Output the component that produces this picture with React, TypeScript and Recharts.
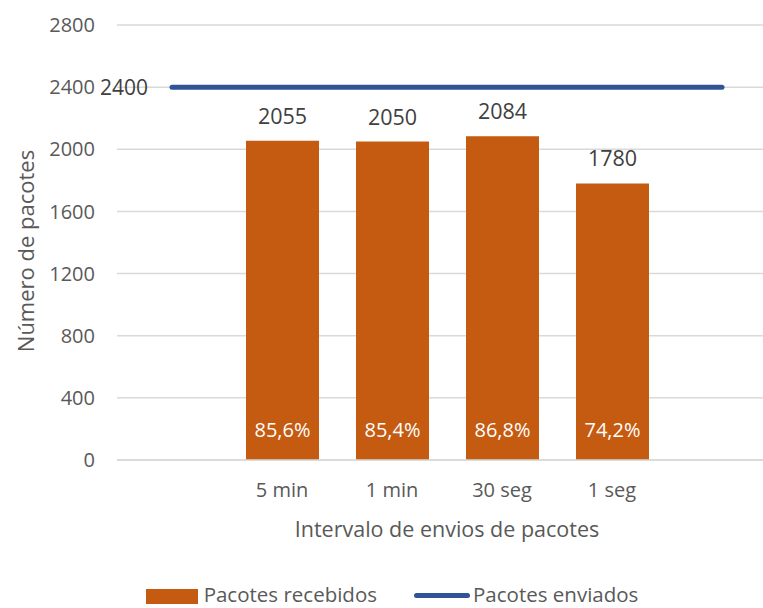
import React from "react";
import {
  Bar,
  CartesianGrid,
  ComposedChart,
  LabelList,
  Legend,
  Line,
  XAxis,
  YAxis,
} from "recharts";

// empty slots at both ends so the "enviados" line runs past the bars
const categories = ["", "5 min", "1 min", "30 seg", "1 seg", ""];
const received = [null, 2055, 2050, 2084, 1780, null];
const sent = [2400, 2400, 2400, 2400, 2400, 2400];
const percentLabels = ["", "85,6%", "85,4%", "86,8%", "74,2%", ""];
const yTicks = [0, 400, 800, 1200, 1600, 2000, 2400, 2800];

const ORANGE = "#C55A11";
const BLUE = "#2F5597";
const GREY = "#595959";
const DARK = "#404040";

const data = categories.map((c, i) => ({
  idx: i,
  received: received[i],
  sent: sent[i],
  pct: percentLabels[i],
}));

function LegendContent() {
  return (
    <div
      style={{
        display: "flex",
        justifyContent: "center",
        alignItems: "center",
        fontSize: 20.5,
        color: GREY,
        lineHeight: "20px",
        height: 20,
      }}
    >
      <span style={{ width: 52, height: 15, background: ORANGE, marginRight: 6, marginTop: 4 }} />
      <span>Pacotes recebidos</span>
      <span
        style={{
          width: 56,
          height: 5,
          borderRadius: 3,
          background: BLUE,
          marginLeft: 37,
          marginRight: 3,
          marginTop: 2,
        }}
      />
      <span>Pacotes enviados</span>
    </div>
  );
}

export default function App() {
  return (
    <div
      style={{
        position: "absolute",
        left: 0,
        top: 0,
        width: 763,
        height: 608,
        overflow: "hidden",
        background: "#fff",
        fontFamily: "'Open Sans', sans-serif",
      }}
    >
      <ComposedChart
        width={784}
        height={608}
        data={data}
        margin={{ top: 25, right: 7, bottom: 88, left: 0 }}
      >
        <CartesianGrid vertical={false} stroke="#D9D9D9" strokeWidth={1.5} />
        <XAxis
          dataKey="idx"
          tickFormatter={(i) => categories[i]}
          axisLine={{ stroke: "#D9D9D9", strokeWidth: 1.5 }}
          tickLine={false}
          tickMargin={17}
          height={60}
          interval={0}
          tick={{ fill: GREY, fontSize: 20 }}
          label={{
            content: () => (
              <text x={447} y={537} textAnchor="middle" fill={GREY} fontSize={21.5}>
                Intervalo de envios de pacotes
              </text>
            ),
          }}
        />
        <YAxis
          width={117}
          domain={[0, 2800]}
          ticks={yTicks}
          axisLine={false}
          tickLine={false}
          tickMargin={16}
          tick={{ fill: GREY, fontSize: 20 }}
          label={{
            content: () => (
              <text
                x={25}
                y={251}
                textAnchor="middle"
                dominantBaseline="central"
                fill={GREY}
                fontSize={22}
                transform="rotate(-90, 25, 251)"
              >
                Número de pacotes
              </text>
            ),
          }}
        />
        <Legend
          layout="horizontal"
          verticalAlign="middle"
          align="center"
          content={() => <LegendContent />}
          wrapperStyle={{ top: 584, left: 0, width: 784, height: 20 }}
        />
        <Bar dataKey="received" name="Pacotes recebidos" fill={ORANGE} barSize={73} isAnimationActive={false}>
          <LabelList dataKey="received" position="top" offset={17} fill={DARK} fontSize={21.5} />
          <LabelList dataKey="pct" position="insideBottom" offset={23} fill="#FFFFFF" fontSize={20} />
        </Bar>
        <Line
          dataKey="sent"
          name="Pacotes enviados"
          stroke={BLUE}
          strokeWidth={5}
          strokeLinecap="round"
          dot={false}
          activeDot={false}
          isAnimationActive={false}
          label={(p: any) =>
            p.index === 0 ? (
              <text
                key="sent-label"
                x={p.x - 24}
                y={p.y}
                textAnchor="end"
                dominantBaseline="central"
                fill={DARK}
                fontSize={21}
              >
                {p.value}
              </text>
            ) : null
          }
        />
      </ComposedChart>
    </div>
  );
}
